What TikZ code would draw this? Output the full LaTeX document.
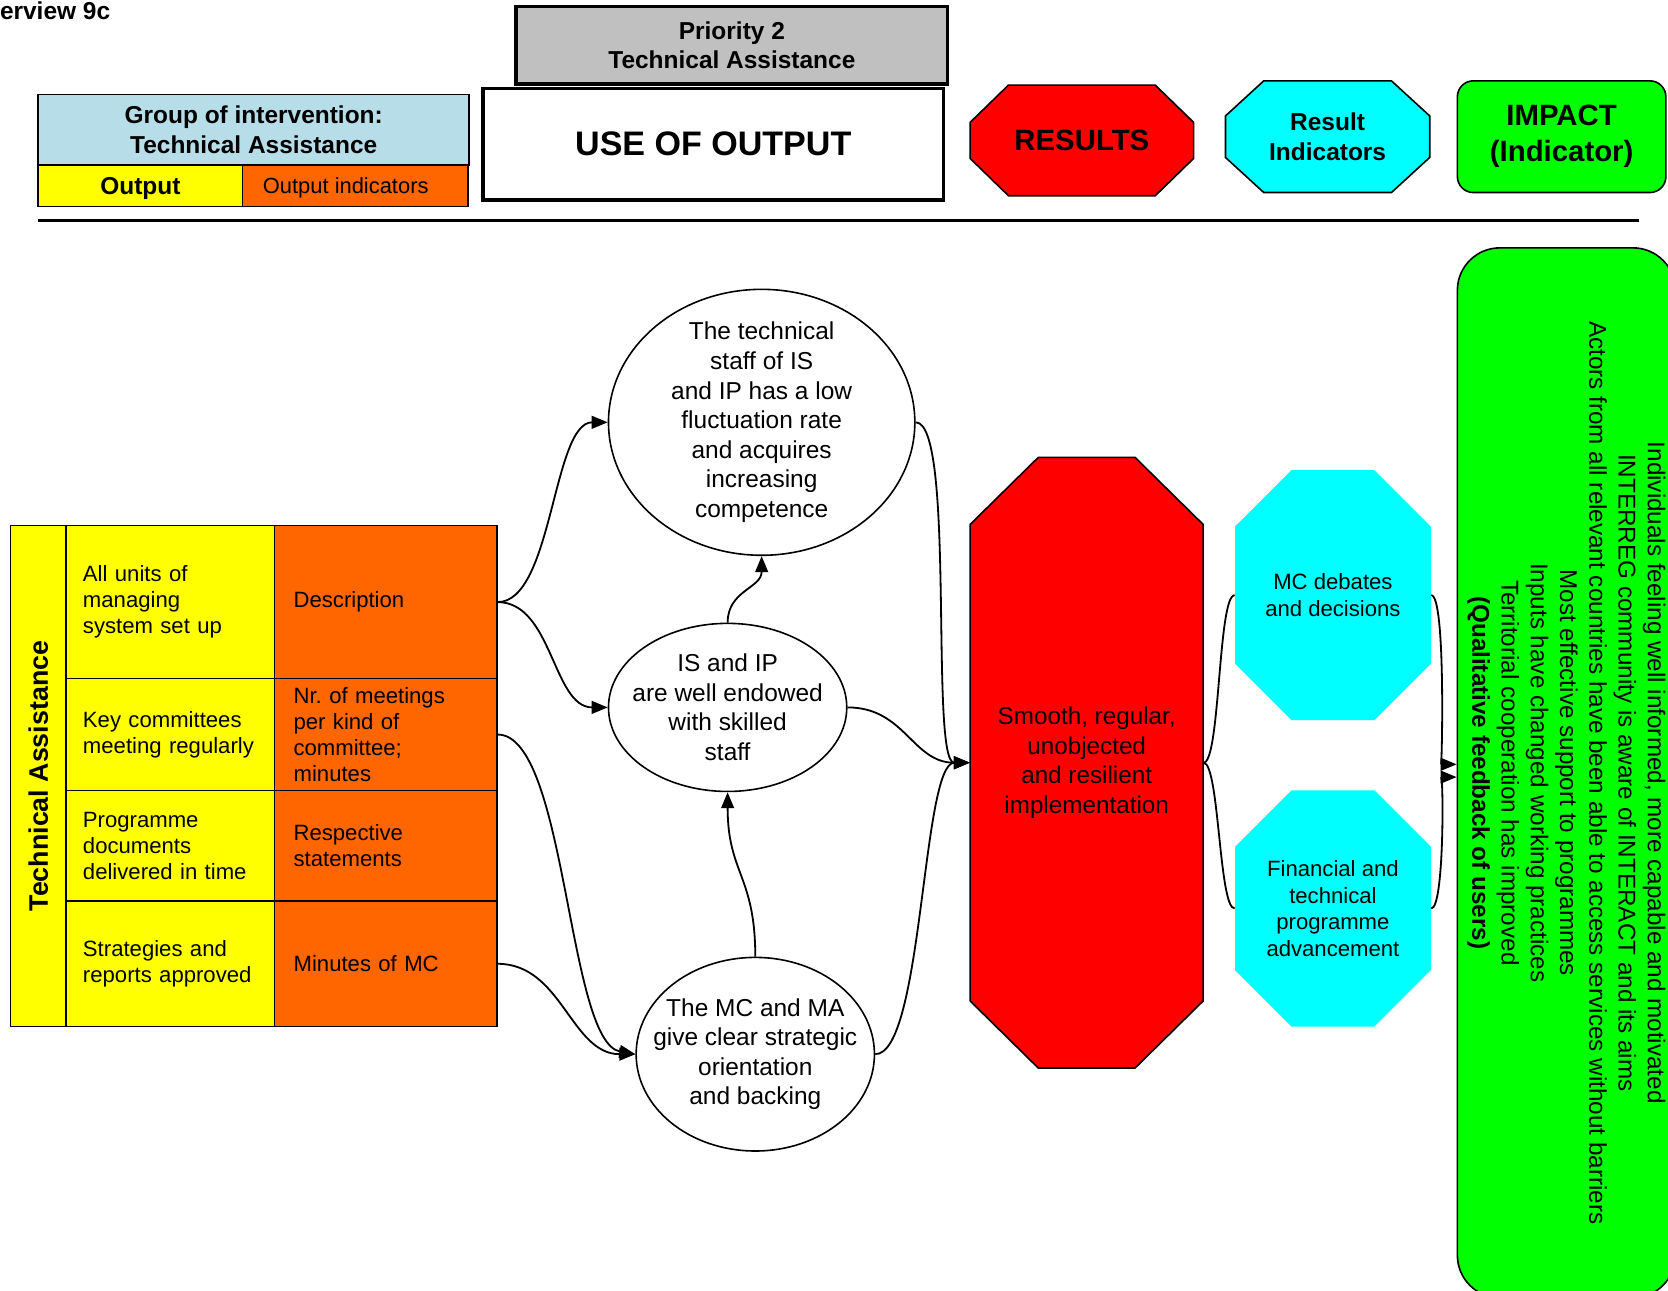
\documentclass[tikz,border=0pt]{standalone}
\usepackage{fontspec}
\setmainfont{Liberation Sans}
\usetikzlibrary{shapes.geometric,arrows.meta}
\definecolor{tablue}{RGB}{183,222,232}
\definecolor{taorange}{RGB}{255,102,0}
\definecolor{tagray}{RGB}{192,192,192}
\definecolor{tayellow}{RGB}{255,255,0}
\definecolor{tacyan}{RGB}{0,255,255}
\definecolor{tagreen}{RGB}{0,255,0}
\definecolor{tared}{RGB}{255,0,0}
\newcommand{\fs}[2]{\fontsize{#1}{#2}\selectfont}
\newcommand{\drawoct}[7]{\path[#7] (#1+#5,#2) -- (#3-#5,#2) -- (#3,#2+#6) -- (#3,#4-#6) -- (#3-#5,#4) -- (#1+#5,#4) -- (#1,#4-#6) -- (#1,#2+#6) -- cycle;}
\begin{document}
\begin{tikzpicture}[x=0.5pt,y=-0.5pt,
  conn/.style={line width=0.85pt},
  arr/.style={conn,-{Triangle[length=7.5pt,width=6pt]}},
  cell/.style={draw,line width=0.75pt,rectangle,inner sep=0pt},
  hdr/.style={font=\bfseries\fs{11.5}{13.8}},
  body/.style={font=\fs{10.4}{12.3}},
  ycell/.style={cell,fill=tayellow,minimum width=98pt,text width=82pt,inner xsep=8pt,align=left,body},
  ocell/.style={cell,fill=taorange,minimum width=104.5pt,text width=86.5pt,inner xsep=9pt,align=left,body},
  oval/.style={draw,ellipse,line width=0.75pt,inner sep=0pt},
  ovaltext/.style={align=center,font=\fs{11.5}{13.9},inner sep=0pt},
  anchorbox/.style={rectangle,inner sep=0pt,align=center}
  ]
\useasboundingbox (0,0) rectangle (1568,1213);
\fill[white] (0,0) rectangle (1568,1213);

% title fragment
\node[anchor=base east,font=\bfseries\fs{11.5}{13},inner sep=0pt] (title) at (104,18) {erview 9c};

% header
\node[cell,fill=tagray,line width=1.5pt,minimum width=203pt,minimum height=36.5pt,align=center,hdr] (prio) at (688,42.5) {Priority 2\\Technical Assistance};
\node[cell,fill=tablue,minimum width=202.5pt,minimum height=33pt,align=center,font=\bfseries\fs{11.5}{14}] (group) at (238.5,122) {Group of intervention:\\Technical Assistance};
\node[cell,fill=tayellow,minimum width=96pt,minimum height=19.5pt,font=\bfseries\fs{11.5}{13},text depth=0pt] (outp) at (132,174.5) {Output};
\node[cell,fill=taorange,minimum width=106pt,minimum height=19.5pt,font=\fs{10.3}{12},text depth=0pt] (outind) at (334,174.5) {\hspace*{-9pt}Output indicators};
\node[cell,fill=white,line width=1.5pt,minimum width=216.5pt,minimum height=52.5pt,font=\bfseries\fs{16}{19}] (use) at (670.5,135.5) {USE OF OUTPUT};
\drawoct{912}{80}{1122}{184}{36}{35}{draw,line width=0.75pt,fill=tared}
\node[anchorbox,minimum width=105pt,minimum height=52pt,font=\bfseries\fs{13.8}{16}] (results) at (1017,132) {RESULTS};
\drawoct{1152}{76}{1344}{181}{36}{33}{draw,line width=0.75pt,fill=tacyan}
\node[anchorbox,minimum width=96pt,minimum height=52.5pt,hdr] (resind) at (1248,128.5) {Result\\Indicators};
\node[cell,fill=tagreen,rounded corners=7.5pt,minimum width=98pt,minimum height=52.5pt,align=center,font=\bfseries\fs{13.8}{17}] (impact) at (1468,128.5) {IMPACT\\(Indicator)};
\draw[line width=1.5pt] (36,207) -- (1541,207);

% left table
\node[cell,fill=tayellow,rotate=90,minimum width=235.5pt,minimum height=26pt,font=\bfseries\fs{12.6}{15}] (ta) at (36,729.5) {Technical Assistance};
\node[ycell,minimum height=72pt] (y1) at (160,566) {All units of\\managing\\system set up};
\node[ycell,minimum height=52.5pt] (y2) at (160,690.5) {Key committees\\meeting regularly};
\node[ycell,minimum height=52pt] (y3) at (160,795) {Programme\\documents\\delivered in time};
\node[ycell,minimum height=59pt] (y4) at (160,906) {Strategies and\\reports approved};
\node[ocell,minimum height=72pt] (o1) at (362.5,566) {Description};
\node[ocell,minimum height=52.5pt] (o2) at (362.5,690.5) {Nr.\ of meetings\\per kind of\\committee;\\minutes};
\node[ocell,minimum height=52pt] (o3) at (362.5,795) {Respective\\statements};
\node[ocell,minimum height=59pt] (o4) at (362.5,906) {Minutes of MC};

% ellipses
\node[oval,minimum width=144pt,minimum height=125pt] (e1) at (716,397) {};
\node[ovaltext] (e1t) at (e1) {The technical\\staff of IS\\and IP has a low\\fluctuation rate\\and acquires\\increasing\\competence};
\node[oval,minimum width=112pt,minimum height=79pt] (e2) at (684,665) {};
\node[ovaltext] (e2t) at (e2) {IS and IP\\are well endowed\\with skilled\\staff};
\node[oval,minimum width=112pt,minimum height=91pt] (e3) at (710,991) {};
\node[ovaltext] (e3t) at (e3) {The MC and MA\\give clear strategic\\orientation\\and backing};

% results
\drawoct{912}{430}{1131}{1004}{64}{63}{draw,line width=0.75pt,fill=tared}
\node[anchorbox,minimum width=109.5pt,minimum height=287pt,font=\fs{11.4}{13.8}] (red) at (1021.5,717) {Smooth, regular,\\unobjected\\and resilient\\implementation};
\drawoct{1161}{442}{1345}{677}{53}{53}{fill=tacyan}
\node[anchorbox,minimum width=92pt,minimum height=117.5pt,font=\fs{10.4}{12.5}] (mc) at (1253,559.5) {MC debates\\and decisions};
\drawoct{1161}{743}{1345}{965}{53}{53}{fill=tacyan}
\node[anchorbox,minimum width=92pt,minimum height=111pt,font=\fs{10.4}{12.5}] (fin) at (1253,854) {Financial and\\technical\\programme\\advancement};

% impact box
\node[draw,line width=0.75pt,fill=tagreen,rounded corners=20pt,rotate=-90,minimum width=493.5pt,minimum height=102.5pt,inner sep=0pt,align=center,font=\fs{11.4}{13.75}] (impact2) at (1472.5,726.5) {Individuals feeling well informed, more capable and motivated\\INTERREG community is aware of INTERACT and its aims\\Actors from all relevant countries have been able to access services without barriers\\Most effective support to programmes\\Inputs have changed working practices\\Territorial cooperation has improved\\\textbf{(Qualitative feedback of users)}};

% connectors
\draw[arr] (o1.east) to[out=0,in=180,looseness=0.67] (e1.west);
\draw[arr] (o1.east) to[out=0,in=180,looseness=0.92] (e2.west);
\draw[arr] (o2.east) to[out=0,in=170,looseness=0.51] (e3.west);
\draw[arr] (o4.east) to[out=0,in=180,looseness=1.0] (e3.west);
\draw[arr] (e2.north) to[out=90,in=-90,looseness=1.1] (e1.south);
\draw[arr] (e3.north) to[out=90,in=-90,looseness=1.25] (e2.south);
\draw[arr] (e1.east) to[out=0,in=180,looseness=0.3] (red.west);
\draw[arr] (e2.east) to[out=0,in=180,looseness=1.1] (red.west);
\draw[arr] (e3.east) to[out=0,in=180,looseness=0.4] (red.west);
\draw[conn] (red.east) to[out=0,in=180,looseness=0.25] (mc.west);
\draw[conn] (red.east) to[out=0,in=180,looseness=0.27] (fin.west);
\draw[arr] (mc.east) to[out=0,in=180,looseness=0.22] ([yshift=4pt]impact2.south);
\draw[arr] (fin.east) to[out=0,in=180,looseness=0.25] ([yshift=-2pt]impact2.south);
\end{tikzpicture}
\end{document}
